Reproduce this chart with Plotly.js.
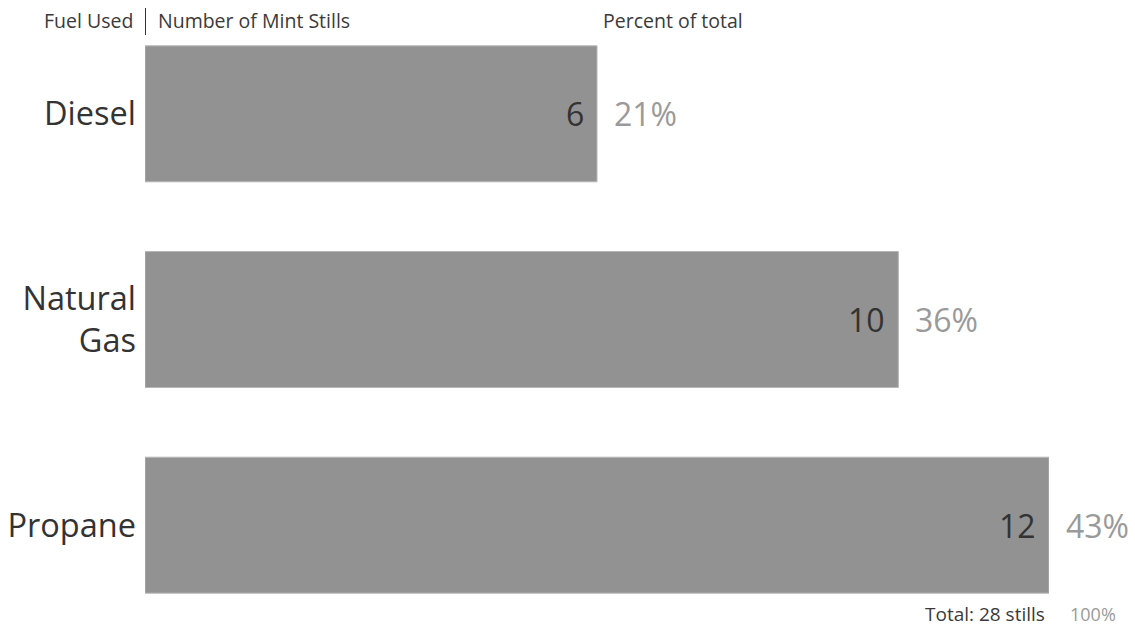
<!DOCTYPE html>
<html>
<head>
<meta charset="utf-8">
<script src="https://cdn.plot.ly/plotly-3.0.1.min.js"></script>
<style>html,body{margin:0;padding:0;background:#fff;}#chart{width:1135px;height:628px;}</style>
</head>
<body>
<div id="chart"></div>
<script>
const fuels = ["Diesel", "Natural Gas", "Propane"];
const fuelLabels = ["Diesel", "Natural<br>Gas", "Propane"];
const stills = [6, 10, 12];
const percents = ["21%", "36%", "43%"];
const totalLabel = "Total: 28 stills";
const totalPercent = "100%";

const FONT = "Open Sans, Noto Sans, sans-serif";

const trace = {
  type: "bar",
  orientation: "h",
  x: stills,
  y: fuels,
  marker: {color: "#929292", line: {color: "#b5b5b5", width: 1}},
  hoverinfo: "skip",
  showlegend: false
};

const annotations = [];
stills.forEach((v, i) => {
  annotations.push({
    x: v, y: fuels[i], xref: "x", yref: "y",
    text: String(v), showarrow: false,
    xanchor: "right", yanchor: "middle", xshift: -11,
    font: {family: FONT, size: 32, color: "#333333"}
  });
  annotations.push({
    x: v, y: fuels[i], xref: "x", yref: "y",
    text: percents[i], showarrow: false,
    xanchor: "left", yanchor: "middle", xshift: 15,
    font: {family: FONT, size: 32, color: "#9a9a9a"}
  });
});

const headFont = {family: FONT, size: 19.5, color: "#3a3a3a"};
annotations.push({x: 0, y: 0.985, xref: "x", yref: "paper", text: "Fuel Used", showarrow: false,
  xanchor: "right", yanchor: "middle", xshift: -10, font: headFont});
annotations.push({x: 0, y: 0.985, xref: "x", yref: "paper", text: "Number of Mint Stills", showarrow: false,
  xanchor: "left", yanchor: "middle", xshift: 11, font: headFont});
annotations.push({x: 0.5045, y: 0.985, xref: "paper", yref: "paper", text: "Percent of total", showarrow: false,
  xanchor: "left", yanchor: "middle", font: headFont});
annotations.push({x: 12, y: 0.0235, xref: "x", yref: "paper", text: totalLabel, showarrow: false,
  xanchor: "right", yanchor: "middle", xshift: -2, font: {family: FONT, size: 19, color: "#3a3a3a"}});
annotations.push({x: 12, y: 0.0235, xref: "x", yref: "paper", text: totalPercent, showarrow: false,
  xanchor: "left", yanchor: "middle", xshift: 19, font: {family: FONT, size: 18, color: "#9a9a9a"}});

const layout = {
  width: 1135, height: 628,
  margin: {l: 145, r: 86, t: 11, b: 0, pad: 0},
  paper_bgcolor: "#ffffff", plot_bgcolor: "#ffffff",
  bargap: 0.339,
  xaxis: {range: [0, 12], visible: false, fixedrange: true},
  yaxis: {
    type: "category",
    categoryorder: "array", categoryarray: fuels,
    autorange: "reversed",
    tickmode: "array", tickvals: fuels, ticktext: fuelLabels,
    showgrid: false, zeroline: false, showline: false, ticks: "",
    ticklabelstandoff: 8,
    tickfont: {family: FONT, size: 32.5, color: "#333333"}
  },
  shapes: [{type: "line", xref: "x", yref: "paper", x0: 0, x1: 0, y0: 0.961, y1: 1.005,
    line: {color: "#333333", width: 2}}],
  annotations: annotations
};

Plotly.newPlot("chart", [trace], layout, {displayModeBar: false, staticPlot: true});
</script>
</body>
</html>
